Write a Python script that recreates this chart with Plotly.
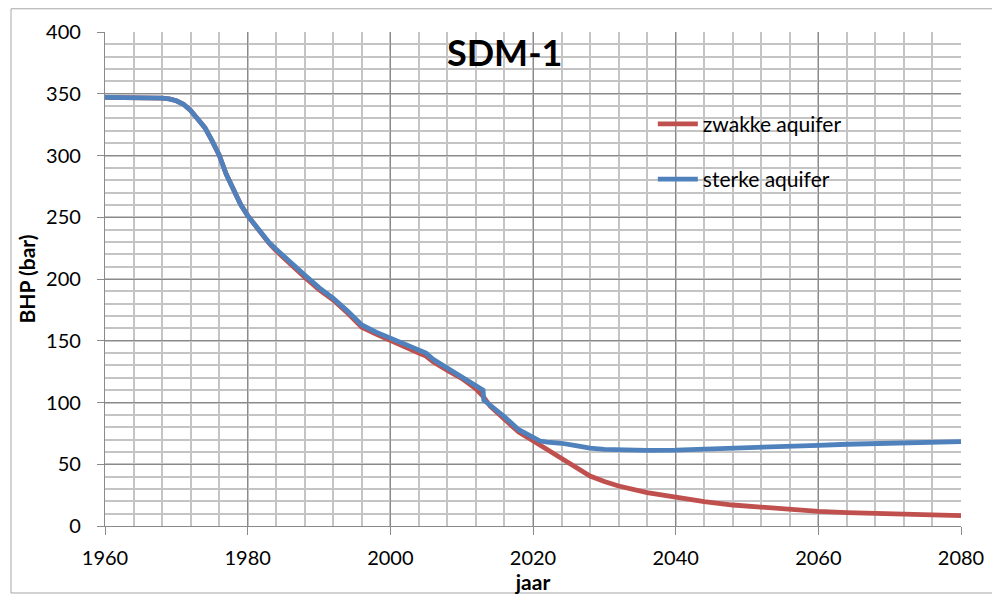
import plotly.graph_objects as go

# ---- data ----
years_sterk = [1960, 1964, 1966, 1968, 1969, 1970, 1971, 1972, 1973, 1974, 1975, 1976,
               1977, 1978, 1979, 1980, 1981, 1982, 1983, 1984, 1986, 1988, 1990, 1992,
               1994, 1996, 1998, 2000, 2002, 2004, 2005, 2006, 2008, 2010, 2012, 2013,
               2013.1, 2014, 2016, 2018, 2020, 2021, 2022, 2024, 2026, 2028, 2030, 2032,
               2036, 2040, 2044, 2048, 2052, 2056, 2060, 2064, 2068, 2072, 2076, 2080]
bhp_sterk = [347, 347, 346.9, 346.4, 345.8, 344.3, 341.5, 336.5, 329.5, 322.5, 312, 300.5,
             284.8, 272, 260.5, 251.3, 243.5, 236.5, 229.5, 224, 213, 203.2, 193, 184.4,
             174, 162.8, 157, 152, 147, 142.5, 140, 135, 128, 121, 113, 110,
             102, 98, 88.5, 78, 72, 68.8, 68, 67, 65, 63, 62, 61.5,
             61.3, 61.5, 62.1, 62.9, 63.6, 64.3, 65.3, 66.2, 66.9, 67.4, 67.8, 68.3]

years_zwak = [1960, 1964, 1966, 1968, 1969, 1970, 1971, 1972, 1973, 1974, 1975, 1976,
              1977, 1978, 1979, 1980, 1981, 1982, 1983, 1984, 1986, 1988, 1990, 1992,
              1994, 1996, 1998, 2000, 2002, 2004, 2005, 2006, 2008, 2010, 2012, 2013,
              2014, 2016, 2018, 2020, 2022, 2024, 2026, 2028, 2030, 2032, 2036, 2040,
              2044, 2048, 2052, 2056, 2060, 2064, 2068, 2072, 2076, 2080]
bhp_zwak = [347, 347, 346.9, 346.4, 345.8, 344.3, 341.5, 336.5, 329.5, 322.5, 312, 300.5,
            284.8, 272, 260.5, 251.3, 243.5, 236.5, 229, 222.8, 211.5, 201.5, 191.5, 183,
            172.5, 161, 155.5, 150, 145, 140, 137.6, 133, 126, 119.5, 111, 105,
            97, 86.6, 76, 69, 62, 54.5, 47, 40.5, 36, 32.4, 27, 23,
            19.7, 17, 15, 13.2, 11.8, 10.9, 10.3, 9.6, 9, 8.4]

series_names = ["zwakke aquifer", "sterke aquifer"]
x_ticks = [1960, 1980, 2000, 2020, 2040, 2060, 2080]
y_ticks = [0, 50, 100, 150, 200, 250, 300, 350, 400]

FONT = "Lato"
RED = "#C0504D"
BLUE = "#4F81BD"
MAJOR = "#8a8a8a"
MINOR = "#c4c4c4"

fig = go.Figure()
fig.add_trace(go.Scatter(x=years_zwak, y=bhp_zwak, mode="lines", name=series_names[0],
                         line=dict(color=RED, width=4.8), legendgroup="a"))
fig.add_trace(go.Scatter(x=years_sterk, y=bhp_sterk, mode="lines", name=series_names[1],
                         line=dict(color=BLUE, width=4.8), legendgroup="b"))

# page has an 8px body margin, so the figure is 992x589 and offsets are compensated
fig.update_layout(
    width=992, height=589,
    margin=dict(l=97, r=39, t=24, b=71, autoexpand=False),
    paper_bgcolor="white", plot_bgcolor="white",
    font=dict(family=FONT, size=20, color="#000000"),
    showlegend=True,
    legend=dict(x=0.64, y=0.855, xanchor="left", yanchor="top",
                bgcolor="rgba(0,0,0,0)", font=dict(size=21, family=FONT),
                tracegroupgap=25, itemwidth=40, traceorder="grouped"),
    annotations=[
        dict(text="<b>SDM-1</b>", x=0.467, y=0.96, xref="paper", yref="paper",
             showarrow=False, font=dict(size=36, family=FONT, color="#000000"),
             xanchor="center", yanchor="middle"),
    ],
    shapes=[
        dict(type="rect", xref="paper", yref="paper",
             x0=-0.1098, x1=1.0415, y0=-0.1356, y1=1.047,
             line=dict(color="#a6a6a6", width=1), fillcolor="rgba(0,0,0,0)", layer="below"),
    ],
)

fig.update_xaxes(
    range=[1960, 2080], tickvals=x_ticks, ticktext=[str(v) for v in x_ticks],
    showgrid=True, gridcolor=MAJOR, gridwidth=1.3,
    minor=dict(dtick=4, tick0=1960, showgrid=True, gridcolor=MINOR, gridwidth=1.6,
               ticks=""),
    ticks="outside", ticklen=8, tickcolor=MAJOR, tickwidth=1.3,
    showline=True, linecolor=MAJOR, linewidth=1.3, zeroline=False,
    ticklabelstandoff=6, automargin=False,
    title=dict(text="<b>jaar</b>", font=dict(size=21, family=FONT), standoff=0),
    tickfont=dict(size=20, family=FONT),
)
fig.update_yaxes(
    range=[0, 400], tickvals=y_ticks, ticktext=[str(v) for v in y_ticks],
    showgrid=True, gridcolor=MAJOR, gridwidth=1.3,
    minor=dict(dtick=10, tick0=0, showgrid=True, gridcolor=MINOR, gridwidth=1.6,
               ticks=""),
    ticks="outside", ticklen=7, tickcolor=MAJOR, tickwidth=1.3,
    showline=True, linecolor=MAJOR, linewidth=1.3, zeroline=False,
    ticklabelstandoff=12, automargin=False,
    title=dict(text="<b>BHP (bar)</b>", font=dict(size=21, family=FONT), standoff=4),
    tickfont=dict(size=20, family=FONT),
)

fig.write_html("out.html")
